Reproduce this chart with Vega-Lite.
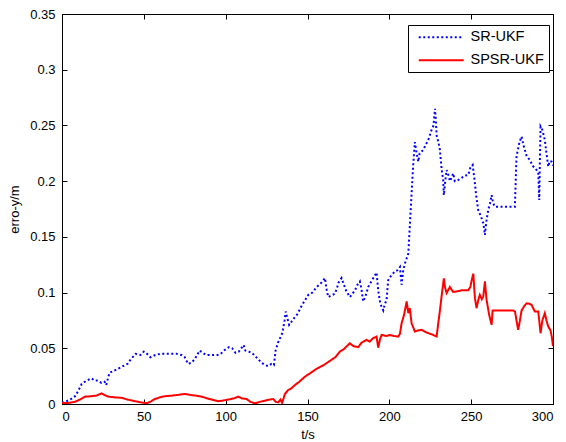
{
  "$schema": "https://vega.github.io/schema/vega-lite/v6.json",
  "width": 491,
  "height": 390,
  "autosize": "none",
  "padding": {"left": 62, "top": 14, "right": 13, "bottom": 38},
  "background": "white",
  "config": {
    "font": "Liberation Sans",
    "view": {"stroke": "black", "strokeWidth": 1},
    "axis": {
      "grid": false, "domainColor": "black", "tickColor": "black", "tickSize": -5,
      "labelColor": "black", "labelFontSize": 13, "titleFontSize": 13, "titleFontWeight": "normal",
      "titleColor": "black", "labelFont": "Liberation Sans", "titleFont": "Liberation Sans"
    },
    "legend": {
      "title": null, "orient": "none", "legendX": 346, "legendY": 11, "direction": "vertical",
      "symbolType": "M-0.27,0H7.9", "symbolSize": 121, "symbolStrokeWidth": 2,
      "strokeColor": "black", "fillColor": "white", "padding": 5, "rowPadding": 8,
      "labelFontSize": 14.5, "labelColor": "black", "labelFont": "Liberation Sans", "labelOffset": 43
    }
  },
  "datasets": {
    "err": [
      {"t":0,"v":0.001,"s":"SR-UKF"},{"t":2,"v":0.002,"s":"SR-UKF"},{"t":5,"v":0.004,"s":"SR-UKF"},{"t":8,"v":0.007,"s":"SR-UKF"},{"t":10,"v":0.012,"s":"SR-UKF"},{"t":12,"v":0.018,"s":"SR-UKF"},{"t":15,"v":0.021,"s":"SR-UKF"},{"t":18,"v":0.023,"s":"SR-UKF"},{"t":20,"v":0.021,"s":"SR-UKF"},{"t":22,"v":0.021,"s":"SR-UKF"},{"t":24,"v":0.019,"s":"SR-UKF"},{"t":26,"v":0.02,"s":"SR-UKF"},{"t":27,"v":0.017,"s":"SR-UKF"},{"t":29,"v":0.028,"s":"SR-UKF"},{"t":32,"v":0.03,"s":"SR-UKF"},{"t":36,"v":0.033,"s":"SR-UKF"},{"t":40,"v":0.036,"s":"SR-UKF"},{"t":42,"v":0.04,"s":"SR-UKF"},{"t":45,"v":0.045,"s":"SR-UKF"},{"t":48,"v":0.044,"s":"SR-UKF"},{"t":50,"v":0.047,"s":"SR-UKF"},{"t":52,"v":0.045,"s":"SR-UKF"},{"t":54,"v":0.042,"s":"SR-UKF"},{"t":57,"v":0.044,"s":"SR-UKF"},{"t":60,"v":0.045,"s":"SR-UKF"},{"t":65,"v":0.045,"s":"SR-UKF"},{"t":70,"v":0.045,"s":"SR-UKF"},{"t":73,"v":0.044,"s":"SR-UKF"},{"t":75,"v":0.042,"s":"SR-UKF"},{"t":77,"v":0.036,"s":"SR-UKF"},{"t":79,"v":0.037,"s":"SR-UKF"},{"t":81,"v":0.04,"s":"SR-UKF"},{"t":83,"v":0.045,"s":"SR-UKF"},{"t":84,"v":0.048,"s":"SR-UKF"},{"t":86,"v":0.046,"s":"SR-UKF"},{"t":88,"v":0.044,"s":"SR-UKF"},{"t":92,"v":0.044,"s":"SR-UKF"},{"t":95,"v":0.044,"s":"SR-UKF"},{"t":97,"v":0.045,"s":"SR-UKF"},{"t":99,"v":0.048,"s":"SR-UKF"},{"t":102,"v":0.051,"s":"SR-UKF"},{"t":104,"v":0.05,"s":"SR-UKF"},{"t":106,"v":0.046,"s":"SR-UKF"},{"t":108,"v":0.047,"s":"SR-UKF"},{"t":109,"v":0.049,"s":"SR-UKF"},{"t":111,"v":0.053,"s":"SR-UKF"},{"t":112,"v":0.048,"s":"SR-UKF"},{"t":114,"v":0.047,"s":"SR-UKF"},{"t":116,"v":0.046,"s":"SR-UKF"},{"t":118,"v":0.043,"s":"SR-UKF"},{"t":120,"v":0.04,"s":"SR-UKF"},{"t":122,"v":0.037,"s":"SR-UKF"},{"t":124,"v":0.035,"s":"SR-UKF"},{"t":126,"v":0.034,"s":"SR-UKF"},{"t":128,"v":0.036,"s":"SR-UKF"},{"t":129.5,"v":0.035,"s":"SR-UKF"},{"t":130.5,"v":0.048,"s":"SR-UKF"},{"t":132,"v":0.055,"s":"SR-UKF"},{"t":134.7,"v":0.064,"s":"SR-UKF"},{"t":136,"v":0.075,"s":"SR-UKF"},{"t":136.7,"v":0.083,"s":"SR-UKF"},{"t":137.5,"v":0.078,"s":"SR-UKF"},{"t":138.8,"v":0.071,"s":"SR-UKF"},{"t":141.8,"v":0.077,"s":"SR-UKF"},{"t":144,"v":0.081,"s":"SR-UKF"},{"t":146,"v":0.087,"s":"SR-UKF"},{"t":148,"v":0.092,"s":"SR-UKF"},{"t":150.5,"v":0.098,"s":"SR-UKF"},{"t":153,"v":0.1,"s":"SR-UKF"},{"t":155.6,"v":0.105,"s":"SR-UKF"},{"t":158,"v":0.108,"s":"SR-UKF"},{"t":160.7,"v":0.113,"s":"SR-UKF"},{"t":161.5,"v":0.104,"s":"SR-UKF"},{"t":162.7,"v":0.096,"s":"SR-UKF"},{"t":164,"v":0.097,"s":"SR-UKF"},{"t":166.8,"v":0.099,"s":"SR-UKF"},{"t":168,"v":0.104,"s":"SR-UKF"},{"t":169,"v":0.109,"s":"SR-UKF"},{"t":170.8,"v":0.113,"s":"SR-UKF"},{"t":172,"v":0.108,"s":"SR-UKF"},{"t":173.5,"v":0.102,"s":"SR-UKF"},{"t":175.9,"v":0.096,"s":"SR-UKF"},{"t":177,"v":0.098,"s":"SR-UKF"},{"t":179,"v":0.102,"s":"SR-UKF"},{"t":180.5,"v":0.107,"s":"SR-UKF"},{"t":182,"v":0.11,"s":"SR-UKF"},{"t":183,"v":0.103,"s":"SR-UKF"},{"t":184,"v":0.092,"s":"SR-UKF"},{"t":185.5,"v":0.097,"s":"SR-UKF"},{"t":187.1,"v":0.105,"s":"SR-UKF"},{"t":189,"v":0.11,"s":"SR-UKF"},{"t":192.2,"v":0.118,"s":"SR-UKF"},{"t":193.2,"v":0.102,"s":"SR-UKF"},{"t":194.5,"v":0.09,"s":"SR-UKF"},{"t":196.3,"v":0.084,"s":"SR-UKF"},{"t":197.3,"v":0.09,"s":"SR-UKF"},{"t":198.3,"v":0.093,"s":"SR-UKF"},{"t":199.3,"v":0.111,"s":"SR-UKF"},{"t":201,"v":0.115,"s":"SR-UKF"},{"t":203.4,"v":0.119,"s":"SR-UKF"},{"t":205,"v":0.12,"s":"SR-UKF"},{"t":206.5,"v":0.123,"s":"SR-UKF"},{"t":207.5,"v":0.107,"s":"SR-UKF"},{"t":208.5,"v":0.12,"s":"SR-UKF"},{"t":209.5,"v":0.126,"s":"SR-UKF"},{"t":211.6,"v":0.135,"s":"SR-UKF"},{"t":212.6,"v":0.162,"s":"SR-UKF"},{"t":213.6,"v":0.189,"s":"SR-UKF"},{"t":214.6,"v":0.215,"s":"SR-UKF"},{"t":215.6,"v":0.235,"s":"SR-UKF"},{"t":216.7,"v":0.225,"s":"SR-UKF"},{"t":217.7,"v":0.2175,"s":"SR-UKF"},{"t":218.5,"v":0.225,"s":"SR-UKF"},{"t":220.7,"v":0.228,"s":"SR-UKF"},{"t":222,"v":0.232,"s":"SR-UKF"},{"t":223.8,"v":0.237,"s":"SR-UKF"},{"t":225.8,"v":0.246,"s":"SR-UKF"},{"t":227,"v":0.25,"s":"SR-UKF"},{"t":227.9,"v":0.265,"s":"SR-UKF"},{"t":228.4,"v":0.255,"s":"SR-UKF"},{"t":228.9,"v":0.241,"s":"SR-UKF"},{"t":230,"v":0.235,"s":"SR-UKF"},{"t":230.9,"v":0.228,"s":"SR-UKF"},{"t":232,"v":0.21,"s":"SR-UKF"},{"t":232.9,"v":0.201,"s":"SR-UKF"},{"t":233.3,"v":0.1875,"s":"SR-UKF"},{"t":234,"v":0.198,"s":"SR-UKF"},{"t":235,"v":0.21,"s":"SR-UKF"},{"t":236,"v":0.206,"s":"SR-UKF"},{"t":237,"v":0.2,"s":"SR-UKF"},{"t":238,"v":0.203,"s":"SR-UKF"},{"t":239,"v":0.207,"s":"SR-UKF"},{"t":240,"v":0.2,"s":"SR-UKF"},{"t":242,"v":0.201,"s":"SR-UKF"},{"t":244.2,"v":0.203,"s":"SR-UKF"},{"t":246,"v":0.205,"s":"SR-UKF"},{"t":248.2,"v":0.2055,"s":"SR-UKF"},{"t":249.5,"v":0.212,"s":"SR-UKF"},{"t":250.9,"v":0.2145,"s":"SR-UKF"},{"t":252.3,"v":0.198,"s":"SR-UKF"},{"t":253,"v":0.188,"s":"SR-UKF"},{"t":254.3,"v":0.174,"s":"SR-UKF"},{"t":255.5,"v":0.17,"s":"SR-UKF"},{"t":256.4,"v":0.1665,"s":"SR-UKF"},{"t":257.5,"v":0.162,"s":"SR-UKF"},{"t":258.4,"v":0.1517,"s":"SR-UKF"},{"t":259.3,"v":0.164,"s":"SR-UKF"},{"t":260.4,"v":0.174,"s":"SR-UKF"},{"t":261.5,"v":0.18,"s":"SR-UKF"},{"t":262.5,"v":0.1875,"s":"SR-UKF"},{"t":263.5,"v":0.18,"s":"SR-UKF"},{"t":264.5,"v":0.177,"s":"SR-UKF"},{"t":270,"v":0.177,"s":"SR-UKF"},{"t":276.7,"v":0.177,"s":"SR-UKF"},{"t":277.7,"v":0.222,"s":"SR-UKF"},{"t":279.5,"v":0.235,"s":"SR-UKF"},{"t":280.8,"v":0.24,"s":"SR-UKF"},{"t":282,"v":0.232,"s":"SR-UKF"},{"t":282.8,"v":0.228,"s":"SR-UKF"},{"t":284,"v":0.222,"s":"SR-UKF"},{"t":285.9,"v":0.219,"s":"SR-UKF"},{"t":287.5,"v":0.214,"s":"SR-UKF"},{"t":288.9,"v":0.2115,"s":"SR-UKF"},{"t":290,"v":0.21,"s":"SR-UKF"},{"t":291,"v":0.208,"s":"SR-UKF"},{"t":291.6,"v":0.183,"s":"SR-UKF"},{"t":292,"v":0.22,"s":"SR-UKF"},{"t":292.4,"v":0.249,"s":"SR-UKF"},{"t":293.5,"v":0.246,"s":"SR-UKF"},{"t":295,"v":0.237,"s":"SR-UKF"},{"t":296,"v":0.225,"s":"SR-UKF"},{"t":297.1,"v":0.213,"s":"SR-UKF"},{"t":298,"v":0.218,"s":"SR-UKF"},{"t":299.1,"v":0.2175,"s":"SR-UKF"},{"t":300,"v":0.214,"s":"SR-UKF"},
      {"t":0,"v":0.001,"s":"SPSR-UKF"},{"t":4,"v":0.001,"s":"SPSR-UKF"},{"t":8,"v":0.002,"s":"SPSR-UKF"},{"t":11,"v":0.004,"s":"SPSR-UKF"},{"t":14,"v":0.0066,"s":"SPSR-UKF"},{"t":18,"v":0.007,"s":"SPSR-UKF"},{"t":21,"v":0.0075,"s":"SPSR-UKF"},{"t":24.2,"v":0.0095,"s":"SPSR-UKF"},{"t":26,"v":0.008,"s":"SPSR-UKF"},{"t":28.3,"v":0.0066,"s":"SPSR-UKF"},{"t":32,"v":0.006,"s":"SPSR-UKF"},{"t":36.5,"v":0.0055,"s":"SPSR-UKF"},{"t":40,"v":0.004,"s":"SPSR-UKF"},{"t":44.6,"v":0.0025,"s":"SPSR-UKF"},{"t":48,"v":0.0015,"s":"SPSR-UKF"},{"t":51.7,"v":0.0006,"s":"SPSR-UKF"},{"t":54,"v":0.002,"s":"SPSR-UKF"},{"t":56.8,"v":0.0045,"s":"SPSR-UKF"},{"t":60,"v":0.006,"s":"SPSR-UKF"},{"t":62.9,"v":0.007,"s":"SPSR-UKF"},{"t":67,"v":0.0075,"s":"SPSR-UKF"},{"t":70,"v":0.008,"s":"SPSR-UKF"},{"t":75.1,"v":0.009,"s":"SPSR-UKF"},{"t":79,"v":0.008,"s":"SPSR-UKF"},{"t":82,"v":0.0075,"s":"SPSR-UKF"},{"t":85.3,"v":0.0066,"s":"SPSR-UKF"},{"t":90,"v":0.0045,"s":"SPSR-UKF"},{"t":95.5,"v":0.0025,"s":"SPSR-UKF"},{"t":98,"v":0.003,"s":"SPSR-UKF"},{"t":101.6,"v":0.004,"s":"SPSR-UKF"},{"t":105,"v":0.005,"s":"SPSR-UKF"},{"t":107.7,"v":0.0066,"s":"SPSR-UKF"},{"t":110,"v":0.005,"s":"SPSR-UKF"},{"t":112.8,"v":0.0045,"s":"SPSR-UKF"},{"t":115,"v":0.002,"s":"SPSR-UKF"},{"t":117.9,"v":0.0006,"s":"SPSR-UKF"},{"t":121,"v":0.002,"s":"SPSR-UKF"},{"t":124,"v":0.003,"s":"SPSR-UKF"},{"t":127,"v":0.004,"s":"SPSR-UKF"},{"t":129.1,"v":0.0045,"s":"SPSR-UKF"},{"t":130.5,"v":0.002,"s":"SPSR-UKF"},{"t":132.1,"v":0.0015,"s":"SPSR-UKF"},{"t":133.5,"v":0.004,"s":"SPSR-UKF"},{"t":134.5,"v":0.001,"s":"SPSR-UKF"},{"t":136.2,"v":0.009,"s":"SPSR-UKF"},{"t":138.2,"v":0.0125,"s":"SPSR-UKF"},{"t":140,"v":0.014,"s":"SPSR-UKF"},{"t":142.3,"v":0.017,"s":"SPSR-UKF"},{"t":145,"v":0.02,"s":"SPSR-UKF"},{"t":148.4,"v":0.0245,"s":"SPSR-UKF"},{"t":152,"v":0.028,"s":"SPSR-UKF"},{"t":156,"v":0.032,"s":"SPSR-UKF"},{"t":160,"v":0.035,"s":"SPSR-UKF"},{"t":164,"v":0.039,"s":"SPSR-UKF"},{"t":167,"v":0.042,"s":"SPSR-UKF"},{"t":169.8,"v":0.047,"s":"SPSR-UKF"},{"t":172,"v":0.049,"s":"SPSR-UKF"},{"t":175.9,"v":0.0545,"s":"SPSR-UKF"},{"t":178,"v":0.052,"s":"SPSR-UKF"},{"t":181,"v":0.051,"s":"SPSR-UKF"},{"t":183,"v":0.055,"s":"SPSR-UKF"},{"t":186.1,"v":0.0575,"s":"SPSR-UKF"},{"t":188,"v":0.056,"s":"SPSR-UKF"},{"t":190,"v":0.059,"s":"SPSR-UKF"},{"t":192.2,"v":0.0605,"s":"SPSR-UKF"},{"t":193.2,"v":0.0505,"s":"SPSR-UKF"},{"t":194.3,"v":0.058,"s":"SPSR-UKF"},{"t":195.3,"v":0.062,"s":"SPSR-UKF"},{"t":198,"v":0.061,"s":"SPSR-UKF"},{"t":200.4,"v":0.062,"s":"SPSR-UKF"},{"t":203,"v":0.061,"s":"SPSR-UKF"},{"t":205.4,"v":0.0605,"s":"SPSR-UKF"},{"t":206.5,"v":0.063,"s":"SPSR-UKF"},{"t":207.5,"v":0.0725,"s":"SPSR-UKF"},{"t":209,"v":0.08,"s":"SPSR-UKF"},{"t":210.6,"v":0.092,"s":"SPSR-UKF"},{"t":211.6,"v":0.0815,"s":"SPSR-UKF"},{"t":212.5,"v":0.086,"s":"SPSR-UKF"},{"t":213.6,"v":0.0725,"s":"SPSR-UKF"},{"t":215.6,"v":0.065,"s":"SPSR-UKF"},{"t":217.5,"v":0.066,"s":"SPSR-UKF"},{"t":219.7,"v":0.0665,"s":"SPSR-UKF"},{"t":223,"v":0.064,"s":"SPSR-UKF"},{"t":226.8,"v":0.062,"s":"SPSR-UKF"},{"t":228.9,"v":0.0605,"s":"SPSR-UKF"},{"t":229.9,"v":0.0725,"s":"SPSR-UKF"},{"t":231,"v":0.085,"s":"SPSR-UKF"},{"t":231.9,"v":0.0963,"s":"SPSR-UKF"},{"t":233.3,"v":0.1128,"s":"SPSR-UKF"},{"t":234,"v":0.105,"s":"SPSR-UKF"},{"t":235,"v":0.0995,"s":"SPSR-UKF"},{"t":237,"v":0.105,"s":"SPSR-UKF"},{"t":239,"v":0.1005,"s":"SPSR-UKF"},{"t":241,"v":0.101,"s":"SPSR-UKF"},{"t":244.2,"v":0.102,"s":"SPSR-UKF"},{"t":248.2,"v":0.102,"s":"SPSR-UKF"},{"t":249.5,"v":0.105,"s":"SPSR-UKF"},{"t":250.3,"v":0.111,"s":"SPSR-UKF"},{"t":251.3,"v":0.117,"s":"SPSR-UKF"},{"t":252.3,"v":0.095,"s":"SPSR-UKF"},{"t":253.3,"v":0.086,"s":"SPSR-UKF"},{"t":254.3,"v":0.093,"s":"SPSR-UKF"},{"t":255.3,"v":0.098,"s":"SPSR-UKF"},{"t":256.5,"v":0.094,"s":"SPSR-UKF"},{"t":257.4,"v":0.0965,"s":"SPSR-UKF"},{"t":258.4,"v":0.11,"s":"SPSR-UKF"},{"t":259.4,"v":0.0935,"s":"SPSR-UKF"},{"t":261,"v":0.08,"s":"SPSR-UKF"},{"t":262.5,"v":0.071,"s":"SPSR-UKF"},{"t":263.1,"v":0.084,"s":"SPSR-UKF"},{"t":270,"v":0.084,"s":"SPSR-UKF"},{"t":275.7,"v":0.084,"s":"SPSR-UKF"},{"t":276.8,"v":0.083,"s":"SPSR-UKF"},{"t":277.7,"v":0.075,"s":"SPSR-UKF"},{"t":278.7,"v":0.0665,"s":"SPSR-UKF"},{"t":279.8,"v":0.075,"s":"SPSR-UKF"},{"t":280.8,"v":0.084,"s":"SPSR-UKF"},{"t":282.5,"v":0.088,"s":"SPSR-UKF"},{"t":283.9,"v":0.0904,"s":"SPSR-UKF"},{"t":285.5,"v":0.09,"s":"SPSR-UKF"},{"t":286.9,"v":0.089,"s":"SPSR-UKF"},{"t":288.9,"v":0.083,"s":"SPSR-UKF"},{"t":291,"v":0.083,"s":"SPSR-UKF"},{"t":292.4,"v":0.0635,"s":"SPSR-UKF"},{"t":293.5,"v":0.075,"s":"SPSR-UKF"},{"t":295,"v":0.0815,"s":"SPSR-UKF"},{"t":296,"v":0.075,"s":"SPSR-UKF"},{"t":297.1,"v":0.0695,"s":"SPSR-UKF"},{"t":298.5,"v":0.066,"s":"SPSR-UKF"},{"t":299.3,"v":0.06,"s":"SPSR-UKF"},{"t":300,"v":0.052,"s":"SPSR-UKF"}
    ]
  },
  "data": {"name": "err"},
  "layer": [
    {
      "mark": {"type": "line", "strokeWidth": 2, "clip": true},
      "encoding": {
        "x": {"field": "t", "type": "quantitative", "scale": {"domain": [0, 300], "nice": false},
              "axis": {"orient": "bottom", "values": [0, 50, 100, 150, 200, 250, 300], "title": "t/s", "labelPadding": 11, "titlePadding": 5}},
        "y": {"field": "v", "type": "quantitative", "scale": {"domain": [0, 0.35], "nice": false},
              "axis": {"orient": "left", "values": [0, 0.05, 0.1, 0.15, 0.2, 0.25, 0.3, 0.35], "format": ".2~f", "title": "erro-y/m", "labelPadding": 12, "titlePadding": 8}},
        "color": {"field": "s", "type": "nominal", "sort": ["SR-UKF", "SPSR-UKF"],
                  "scale": {"domain": ["SR-UKF", "SPSR-UKF"], "range": ["#0000FF", "#FF0000"]}},
        "strokeDash": {"field": "s", "type": "nominal", "sort": ["SR-UKF", "SPSR-UKF"],
                       "scale": {"domain": ["SR-UKF", "SPSR-UKF"], "range": [[2, 2.5], [1, 0]]}}
      }
    },
    {
      "mark": {"type": "line", "opacity": 0},
      "encoding": {
        "x": {"field": "t", "type": "quantitative", "scale": {"domain": [0, 300], "nice": false},
              "axis": {"orient": "top", "values": [0, 50, 100, 150, 200, 250, 300], "labels": false, "title": null, "domain": false}},
        "y": {"field": "v", "type": "quantitative", "scale": {"domain": [0, 0.35], "nice": false},
              "axis": {"orient": "right", "values": [0, 0.05, 0.1, 0.15, 0.2, 0.25, 0.3, 0.35], "labels": false, "title": null, "domain": false}},
        "detail": {"field": "s", "type": "nominal"}
      }
    }
  ],
  "resolve": {"axis": {"x": "independent", "y": "independent"}}
}
